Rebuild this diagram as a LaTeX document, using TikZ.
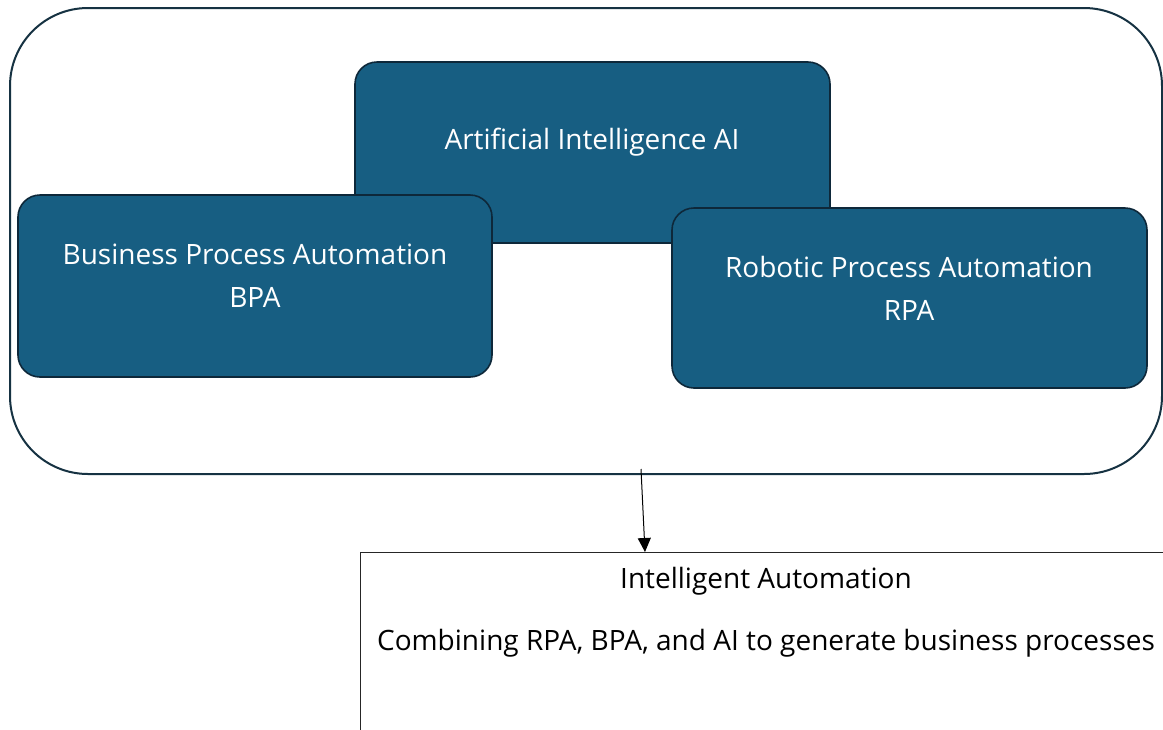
\documentclass[tikz,border=0pt]{standalone}
\usepackage{fontspec}
\setmainfont{Open Sans}
\usetikzlibrary{arrows.meta,calc}
\definecolor{boxfill}{RGB}{23,94,130}
\definecolor{boxline}{RGB}{14,40,58}
\definecolor{outerline}{RGB}{22,50,66}
\tikzset{
  blue box/.style={draw=boxline, line width=1.6pt, fill=boxfill, rounded corners=22pt, inner sep=0pt},
  white text/.style={text=white, font=\fontsize{28}{43}\selectfont, align=center, inner sep=0pt},
  black text/.style={text=black, font=\fontsize{28}{32}\selectfont, inner sep=0pt},
}
\begin{document}
\begin{tikzpicture}[x=1pt,y=-1pt]
\useasboundingbox (0,0) rectangle (1163,729);
\clip (0,0) rectangle (1163,729);
\fill[white] (0,0) rectangle (1163,729);
% outer container
\node[draw=outerline, line width=2pt, rounded corners=78pt, minimum width=1152pt, minimum height=466pt, inner sep=0pt] (outer) at (586,241) {};
% AI
\node[blue box, minimum width=475pt, minimum height=181pt] (ai) at (592.5,152.5) {};
\node[white text] (aitxt) at (592,142) {Artificial Intelligence AI};
% BPA
\node[blue box, minimum width=474pt, minimum height=182pt] (bpa) at (255,286) {};
\node[white text] (bpatxt) at (255,276) {Business Process Automation\\BPA};
% RPA
\node[blue box, minimum width=475pt, minimum height=180pt] (rpa) at (909.5,298) {};
\node[white text] (rpatxt) at (909,288) {Robotic Process Automation\\RPA};
% bottom box
\node[draw=black!85, line width=1.3pt, minimum width=830pt, minimum height=220pt, inner sep=0pt, anchor=north west] (ia) at (360,552) {};
\node[black text] (iatitle) at (766,581) {Intelligent Automation};
\node[black text] (iadesc) at (766,643) {Combining RPA, BPA, and AI to generate business processes};
% arrow
\coordinate (src) at (641,469);
\draw[line width=1pt, -{Triangle[length=14pt,width=13pt]}] (src) -- ($(ia.north west)+(285,0)$);
\end{tikzpicture}
\end{document}
